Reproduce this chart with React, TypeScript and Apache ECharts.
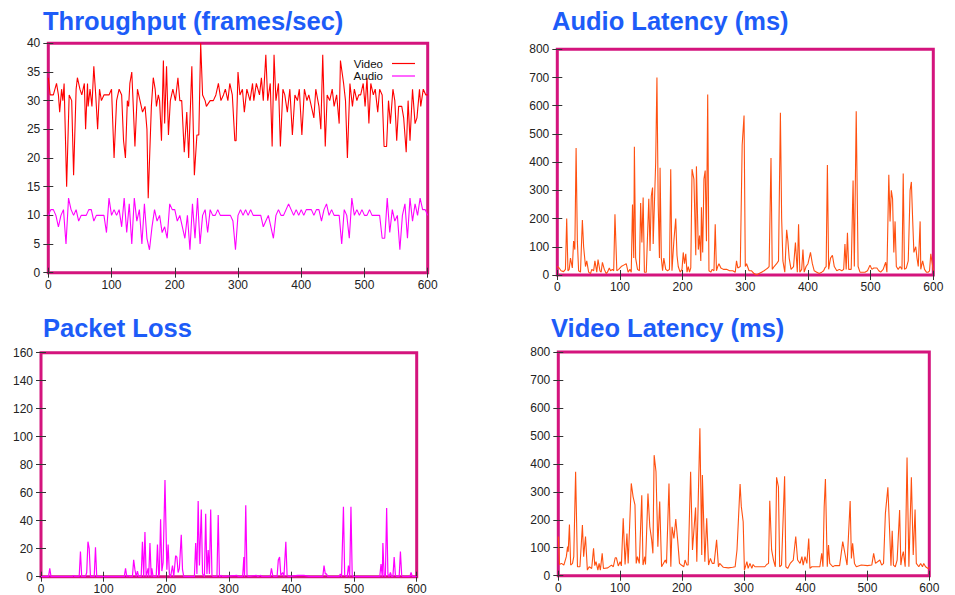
import React, { useEffect, useRef } from "react";
import * as echarts from "echarts";

// ---------- data ----------
const timeTicks = [0, 100, 200, 300, 400, 500, 600];

const panelTitles = [
  "Throughput (frames/sec)",
  "Audio Latency (ms)",
  "Packet Loss",
  "Video Latency (ms)",
];

const videoFps: [number, number][] = [
  [0, 34], [3, 31], [8, 31], [13, 33], [16, 31], [18, 28], [21, 32], [23, 30], [25, 33], [29, 15],
  [33, 31], [37, 30], [40, 17], [44, 32], [46, 34], [50, 32], [53, 31], [57, 33], [59, 25], [62, 33],
  [63, 29], [66, 32], [69, 29], [72, 36], [75, 31], [78, 25], [81, 32], [84, 30], [88, 31], [92, 31],
  [96, 31], [100, 32], [104, 20], [108, 30], [112, 32], [116, 31], [119, 23], [122, 20], [125, 30], [127, 29],
  [129, 33], [132, 35], [134, 30], [137, 22], [141, 32], [145, 30], [149, 28], [153, 29], [156, 25], [158, 13],
  [163, 29], [166, 34], [169, 32], [171, 29], [174, 31], [176, 30], [179, 23], [182, 37], [184, 26], [187, 36],
  [190, 24], [193, 30], [197, 32], [201, 30], [205, 34], [208, 30], [211, 30], [215, 21], [219, 28], [222, 20],
  [227, 36], [231, 17], [235, 24], [238, 24], [241, 40], [244, 31], [248, 30], [250, 29], [256, 30], [261, 30],
  [265, 31], [269, 33], [273, 30], [277, 31], [280, 32], [284, 30], [287, 33], [291, 31], [295, 23], [297, 23],
  [300, 35], [303, 31], [307, 32], [310, 28], [314, 32], [319, 30], [323, 33], [325, 30], [329, 33], [334, 31],
  [337, 34], [340, 30], [344, 38], [347, 30], [351, 33], [354, 22], [357, 38], [360, 30], [364, 33], [367, 22],
  [371, 32], [374, 31], [378, 28], [382, 32], [386, 24], [390, 31], [394, 30], [397, 32], [401, 24], [405, 32],
  [409, 30], [412, 31], [416, 29], [420, 27], [423, 32], [428, 29], [431, 25], [434, 38], [438, 22], [441, 31],
  [445, 30], [449, 32], [452, 29], [456, 31], [460, 26], [462, 37], [467, 33], [470, 30], [473, 20], [477, 33],
  [481, 29], [484, 32], [488, 30], [491, 31], [494, 31], [498, 33], [501, 29], [504, 34], [507, 26], [510, 33],
  [514, 31], [517, 32], [521, 28], [524, 32], [528, 31], [531, 22], [535, 22], [538, 30], [541, 26], [545, 32],
  [548, 30], [551, 23], [554, 29], [559, 29], [562, 27], [566, 21], [569, 30], [572, 23], [576, 32], [580, 26],
  [583, 27], [587, 32], [589, 29], [593, 32], [597, 31], [600, 31],
];

const audioFps: [number, number][] = [
  [0, 10], [4, 11], [8, 11], [12, 10], [16, 8], [20, 10], [24, 11], [28, 5], [32, 13], [36, 11],
  [40, 10], [44, 11], [48, 9], [52, 10], [56, 10], [60, 10], [64, 11], [68, 11], [72, 9], [76, 10],
  [80, 10], [84, 10], [88, 10], [92, 7], [96, 13], [100, 10], [104, 11], [108, 10], [112, 11], [116, 8],
  [120, 13], [124, 7], [128, 12], [132, 5], [136, 13], [140, 9], [144, 11], [148, 5], [152, 12], [156, 6],
  [160, 4], [164, 8], [168, 11], [172, 9], [176, 10], [180, 7], [184, 8], [188, 6], [192, 12], [196, 11],
  [200, 11], [204, 9], [208, 10], [212, 8], [216, 6], [220, 10], [224, 4], [228, 12], [232, 6], [236, 13],
  [240, 5], [244, 10], [248, 11], [252, 7], [256, 11], [260, 10], [264, 10], [268, 11], [272, 10], [276, 10],
  [280, 10], [284, 10], [288, 10], [292, 9], [296, 4], [300, 10], [304, 11], [308, 10], [312, 11], [316, 10],
  [320, 11], [324, 10], [328, 10], [332, 10], [336, 10], [340, 8], [344, 9], [348, 10], [352, 8], [356, 6],
  [360, 10], [364, 11], [368, 10], [372, 10], [376, 11], [380, 12], [384, 11], [388, 10], [392, 11], [396, 10],
  [400, 11], [404, 10], [408, 11], [412, 11], [416, 11], [420, 10], [424, 11], [428, 11], [432, 9], [436, 11],
  [440, 12], [444, 10], [448, 11], [452, 10], [456, 10], [460, 10], [464, 5], [468, 11], [472, 10], [476, 6],
  [480, 13], [484, 10], [488, 11], [492, 10], [496, 11], [500, 10], [504, 10], [508, 11], [512, 10], [516, 10],
  [520, 10], [524, 10], [528, 6], [532, 6], [536, 13], [540, 7], [544, 11], [548, 9], [552, 10], [556, 4],
  [560, 10], [564, 12], [568, 6], [572, 13], [576, 9], [580, 12], [584, 10], [588, 13], [592, 11], [596, 11],
  [600, 10],
];

const audioLatency: [number, number][] = [
  [0, 30], [3, 25], [6, 15], [10, 12], [13, 20], [15, 200], [17, 15], [19, 20], [21, 60], [24, 25],
  [26, 120], [28, 90], [30, 450], [32, 120], [34, 15], [37, 10], [40, 195], [42, 100], [45, 30], [47, 50],
  [50, 10], [53, 5], [55, 20], [58, 15], [60, 50], [63, 10], [65, 55], [68, 15], [70, 10], [72, 45],
  [75, 20], [78, 5], [80, 10], [83, 25], [85, 15], [88, 20], [90, 15], [92, 215], [95, 15], [98, 20],
  [102, 30], [106, 35], [110, 40], [113, 10], [116, 20], [118, 10], [120, 250], [122, 60], [123, 455], [125, 60],
  [128, 20], [131, 15], [133, 255], [135, 115], [137, 275], [139, 10], [142, 10], [146, 270], [148, 85], [150, 280],
  [152, 310], [153, 110], [157, 400], [159, 700], [161, 250], [163, 60], [164, 380], [166, 60], [168, 15], [170, 60],
  [173, 20], [176, 15], [179, 20], [181, 375], [183, 15], [186, 120], [189, 200], [191, 70], [193, 30], [196, 10],
  [199, 20], [201, 80], [203, 40], [205, 75], [207, 10], [209, 30], [211, 10], [213, 25], [215, 375], [218, 340],
  [221, 70], [222, 385], [225, 90], [227, 140], [229, 50], [230, 240], [232, 80], [234, 340], [236, 370], [238, 120],
  [240, 640], [242, 15], [245, 10], [247, 20], [250, 15], [252, 180], [254, 15], [256, 30], [258, 40], [261, 25],
  [265, 20], [270, 20], [275, 15], [280, 15], [284, 10], [286, 50], [288, 25], [292, 30], [295, 460], [298, 565],
  [300, 30], [302, 40], [306, 15], [310, 15], [314, 5], [318, 0], [322, 5], [326, 10], [330, 15], [333, 20],
  [336, 25], [338, 30], [341, 415], [343, 20], [346, 30], [350, 40], [353, 50], [356, 575], [358, 200], [360, 50],
  [363, 10], [366, 160], [368, 120], [370, 60], [373, 20], [377, 30], [380, 115], [383, 10], [385, 180], [387, 10],
  [390, 20], [392, 90], [394, 10], [397, 30], [400, 40], [404, 80], [407, 40], [410, 15], [414, 10], [418, 5],
  [422, 10], [425, 15], [427, 25], [429, 30], [431, 390], [433, 20], [436, 60], [439, 70], [442, 30], [446, 15],
  [450, 20], [454, 15], [457, 20], [459, 110], [461, 20], [463, 150], [465, 20], [469, 20], [472, 335], [474, 30],
  [477, 580], [480, 30], [483, 10], [487, 10], [491, 10], [495, 15], [499, 35], [502, 20], [505, 25], [510, 25],
  [513, 15], [516, 10], [520, 20], [524, 45], [526, 10], [529, 355], [531, 190], [533, 300], [535, 270], [537, 80],
  [539, 190], [541, 30], [544, 20], [547, 30], [550, 20], [552, 360], [554, 20], [557, 25], [560, 50], [563, 300],
  [565, 330], [567, 200], [569, 80], [572, 100], [574, 60], [576, 30], [579, 190], [580, 20], [583, 50], [586, 20],
  [589, 10], [592, 10], [594, 15], [596, 75], [600, 15],
];

const packetLoss: [number, number][] = [
  [0, 0], [12, 0], [14, 6], [16, 0], [50, 0], [52, 1], [54, 0], [61, 0], [63, 18], [65, 0],
  [71, 0], [73, 3], [75, 25], [77, 20], [79, 0], [85, 0], [87, 21], [89, 0], [133, 0], [135, 6],
  [137, 0], [139, 1], [141, 0], [146, 0], [148, 12], [150, 5], [152, 0], [154, 4], [156, 0], [160, 0],
  [162, 25], [164, 0], [166, 32], [168, 0], [171, 6], [172, 0], [174, 24], [176, 0], [177, 6], [179, 0],
  [184, 0], [186, 23], [188, 0], [189, 2], [191, 41], [193, 4], [195, 10], [198, 69], [201, 5], [203, 23],
  [205, 2], [207, 0], [210, 8], [212, 0], [215, 15], [217, 14], [219, 3], [221, 6], [224, 30], [226, 5],
  [228, 0], [245, 0], [247, 24], [249, 2], [251, 54], [253, 8], [256, 48], [258, 2], [261, 0], [263, 45],
  [265, 2], [267, 19], [269, 2], [271, 48], [273, 1], [275, 0], [281, 0], [283, 44], [285, 0], [288, 1],
  [290, 0], [313, 1], [315, 0], [322, 0], [324, 14], [325, 0], [327, 51], [329, 1], [331, 0], [344, 1],
  [346, 0], [351, 1], [353, 0], [366, 0], [368, 6], [370, 1], [372, 0], [377, 0], [379, 12], [381, 14],
  [383, 1], [386, 3], [388, 0], [389, 0], [391, 25], [393, 1], [395, 0], [410, 1], [420, 1], [430, 0],
  [450, 0], [452, 8], [454, 2], [456, 2], [458, 0], [476, 0], [478, 2], [480, 0], [481, 0], [483, 50],
  [485, 1], [489, 0], [491, 8], [493, 0], [495, 50], [497, 1], [499, 0], [541, 0], [543, 9], [545, 0],
  [546, 24], [548, 1], [550, 0], [552, 49], [554, 2], [556, 0], [558, 3], [560, 0], [562, 0], [564, 14],
  [566, 1], [568, 0], [572, 0], [574, 18], [576, 1], [578, 0], [589, 0], [591, 3], [593, 0], [600, 0],
];

const videoLatency: [number, number][] = [
  [0, 140], [2, 40], [5, 44], [9, 38], [13, 68], [15, 104], [16, 86], [18, 183], [20, 38], [23, 44],
  [25, 68], [28, 372], [31, 32], [35, 32], [39, 181], [41, 68], [44, 140], [47, 20], [50, 32], [54, 26],
  [57, 98], [59, 36], [61, 50], [64, 20], [66, 44], [68, 20], [71, 80], [73, 26], [80, 28], [86, 38],
  [89, 32], [92, 64], [94, 64], [97, 35], [100, 50], [102, 35], [105, 205], [108, 40], [111, 151], [113, 44],
  [118, 330], [121, 282], [124, 253], [126, 44], [128, 68], [131, 44], [135, 288], [137, 38], [140, 68], [141, 40],
  [145, 294], [148, 175], [151, 128], [153, 80], [155, 431], [158, 372], [161, 104], [164, 265], [167, 32], [170, 44],
  [173, 56], [175, 44], [179, 330], [182, 32], [184, 175], [187, 133], [190, 203], [193, 128], [196, 44], [199, 38],
  [203, 32], [205, 56], [208, 38], [210, 38], [214, 372], [217, 92], [222, 244], [224, 50], [229, 527], [232, 74],
  [233, 360], [237, 50], [240, 205], [243, 38], [246, 62], [249, 44], [252, 44], [256, 128], [259, 32], [261, 44],
  [267, 30], [275, 28], [282, 30], [286, 32], [289, 92], [294, 328], [296, 247], [299, 193], [301, 20], [305, 50],
  [307, 26], [310, 44], [313, 26], [315, 40], [318, 32], [325, 32], [334, 32], [337, 40], [340, 44], [342, 268],
  [345, 92], [348, 56], [351, 32], [353, 352], [356, 318], [358, 32], [361, 38], [366, 356], [368, 32], [371, 26],
  [375, 44], [380, 56], [384, 140], [387, 56], [391, 44], [394, 68], [396, 38], [399, 68], [402, 44], [405, 133],
  [407, 26], [410, 32], [416, 32], [423, 32], [426, 80], [428, 32], [430, 247], [432, 346], [435, 32], [437, 110],
  [439, 44], [444, 32], [447, 36], [455, 36], [460, 122], [464, 74], [467, 38], [472, 267], [474, 62], [476, 116],
  [479, 44], [482, 32], [490, 38], [500, 36], [507, 38], [510, 80], [513, 44], [520, 56], [523, 38], [526, 44],
  [529, 223], [533, 316], [536, 151], [538, 36], [540, 161], [542, 38], [545, 32], [548, 56], [552, 235], [554, 38],
  [556, 68], [558, 86], [561, 32], [564, 423], [567, 32], [571, 352], [574, 74], [577, 237], [579, 44], [583, 32],
  [586, 44], [589, 32], [591, 44], [594, 32], [598, 26], [600, 30],
];

// ---------- styling ----------
const FONT = "'Liberation Sans', Arial, Helvetica, sans-serif";
const TITLE_COLOR = "#1d5cf8";
const FRAME_COLOR = "#d4147d";
const TICK_COLOR = "#333333";
const LABEL_COLOR = "#222222";

type PanelSpec = {
  left: number; top: number; width: number; height: number;
  yMax: number; yInterval: number;
  titleX: number; titleY: number;
};

const panels: PanelSpec[] = [
  { left: 48.3, top: 43.3, width: 379.4, height: 229.4, yMax: 40, yInterval: 5, titleX: 43, titleY: 20.5 },
  { left: 557.3, top: 49.3, width: 376, height: 225.7, yMax: 800, yInterval: 100, titleX: 552, titleY: 20.5 },
  { left: 41, top: 352.7, width: 375.7, height: 224, yMax: 160, yInterval: 20, titleX: 43, titleY: 327.5 },
  { left: 558.3, top: 352, width: 371, height: 223.7, yMax: 800, yInterval: 100, titleX: 551, titleY: 327.5 },
];

function buildOption() {
  const grid: any[] = [];
  const xAxis: any[] = [];
  const yAxis: any[] = [];
  const graphic: any[] = [];

  const tick = { show: true, inside: true, length: 5, lineStyle: { color: TICK_COLOR, width: 1 } };
  const label = { color: LABEL_COLOR, fontSize: 12, fontFamily: FONT };

  panels.forEach((p, i) => {
    grid.push({
      left: p.left, top: p.top, width: p.width, height: p.height,
      show: true, borderColor: FRAME_COLOR, borderWidth: 3, backgroundColor: "transparent",
      containLabel: false,
    });
    xAxis.push({
      type: "value", gridIndex: i, position: "bottom", min: timeTicks[0], max: timeTicks[timeTicks.length - 1],
      interval: 100, axisLine: { show: false }, axisTick: tick, splitLine: { show: false },
      axisLabel: { ...label, margin: 6 },
    });
    xAxis.push({
      type: "value", gridIndex: i, position: "top", min: timeTicks[0], max: timeTicks[timeTicks.length - 1],
      interval: 100, axisLine: { show: false }, axisTick: tick, splitLine: { show: false },
      axisLabel: { show: false },
    });
    yAxis.push({
      type: "value", gridIndex: i, position: "left", min: 0, max: p.yMax, interval: p.yInterval,
      axisLine: { show: false }, axisTick: tick, splitLine: { show: false },
      axisLabel: { ...label, margin: 8 },
    });
    yAxis.push({
      type: "value", gridIndex: i, position: "right", min: 0, max: p.yMax, interval: p.yInterval,
      axisLine: { show: false }, axisTick: tick, splitLine: { show: false },
      axisLabel: { show: false },
    });
    graphic.push({
      type: "text", x: p.titleX, y: p.titleY, silent: true,
      style: {
        text: panelTitles[i], fill: TITLE_COLOR, font: `bold 25.5px ${FONT}`,
        verticalAlign: "middle", align: "left",
      },
    });
  });

  const line = (name: string, data: [number, number][], panel: number, color: string, width = 1) => ({
    name, type: "line", data, xAxisIndex: panel * 2, yAxisIndex: panel * 2,
    symbol: "none", showSymbol: false, clip: true,
    lineStyle: { color, width }, itemStyle: { color },
    emphasis: { disabled: true },
  });

  return {
    animation: false,
    backgroundColor: "#ffffff",
    grid, xAxis, yAxis, graphic,
    legend: {
      data: [
        { name: "Video", icon: "rect" },
        { name: "Audio", icon: "rect" },
      ],
      orient: "vertical", align: "right",
      right: 540, top: 57.5, padding: 0, itemGap: 0.5,
      itemWidth: 23, itemHeight: 1.2,
      textStyle: { color: "#111", fontSize: 11.5, fontFamily: FONT, lineHeight: 11.3, padding: [0, 4, 0, 0] },
      selectedMode: false,
    },
    series: [
      line("Video", videoFps, 0, "#ff0000", 1.1),
      line("Audio", audioFps, 0, "#ff00ff", 1.1),
      line("Audio latency", audioLatency, 1, "#ff5010", 1.1),
      line("Packet loss", packetLoss, 2, "#ff00ff", 1.2),
      line("Video latency", videoLatency, 3, "#ff5010", 1.1),
    ],
  };
}

export default function App() {
  const ref = useRef<HTMLDivElement>(null);
  useEffect(() => {
    if (!ref.current) return;
    const chart = echarts.init(ref.current, undefined, { renderer: "svg" });
    chart.setOption(buildOption() as any);
    return () => chart.dispose();
  }, []);
  return (
    <div
      ref={ref}
      style={{ position: "fixed", left: 0, top: 0, width: 955, height: 595, background: "#fff" }}
    />
  );
}
